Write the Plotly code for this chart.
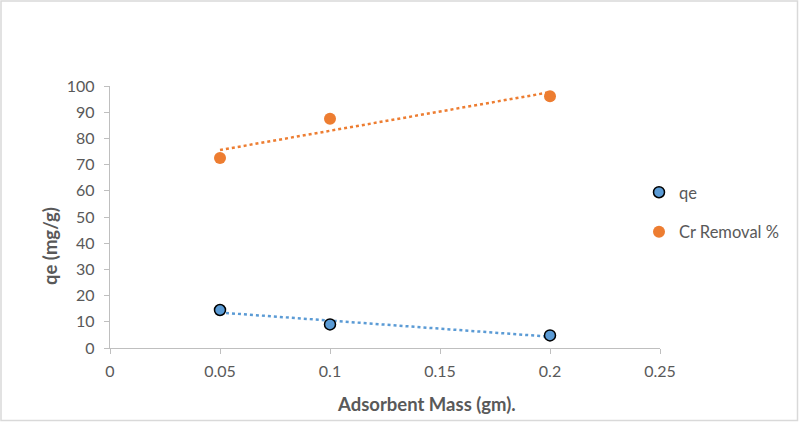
import numpy as np
import plotly.graph_objects as go

mass = [0.05, 0.1, 0.2]
qe = [14.5, 9.0, 4.8]
cr_removal = [72.5, 87.5, 96.1]

x_ticks = [0, 0.05, 0.1, 0.15, 0.2, 0.25]
x_tick_text = ["0", "0.05", "0.1", "0.15", "0.2", "0.25"]
y_ticks = list(range(0, 101, 10))

BLUE = "#5B9BD5"
ORANGE = "#ED7D31"
TXT = "#595959"
FONT = "Lato"

def trend(x, y):
    m, b = np.polyfit(x, y, 1)
    xs = [min(x), max(x)]
    return xs, [m * v + b for v in xs]

fig = go.Figure()
tx, ty = trend(mass, qe)
fig.add_trace(go.Scatter(x=tx, y=ty, mode="lines", line=dict(color=BLUE, width=2.5, dash="dot"),
                         showlegend=False, hoverinfo="skip"))
tx, ty = trend(mass, cr_removal)
fig.add_trace(go.Scatter(x=tx, y=ty, mode="lines", line=dict(color=ORANGE, width=2.5, dash="dot"),
                         showlegend=False, hoverinfo="skip"))
fig.add_trace(go.Scatter(x=mass, y=qe, mode="markers", name="qe", legendgroup="a",
                         marker=dict(color=BLUE, size=11, line=dict(color="#000000", width=1.5))))
fig.add_trace(go.Scatter(x=mass, y=cr_removal, mode="markers", name="Cr Removal %", legendgroup="b",
                         marker=dict(color=ORANGE, size=12, line=dict(width=0))))

L, R, T, B = 110, 139, 86, 74
W, H = 799, 422
pw, ph = W - L - R, H - T - B

def px(xp):
    return (xp - L) / pw

def py(yp):
    return (H - B - yp) / ph

fig.update_layout(
    width=W, height=H,
    margin=dict(l=L, r=R, t=T, b=B),
    paper_bgcolor="white", plot_bgcolor="white",
    font=dict(family=FONT, color=TXT, size=16),
    showlegend=True,
    legend=dict(x=px(639), y=py(175), xanchor="left", yanchor="top",
                font=dict(size=16.5, color=TXT, family=FONT), traceorder="grouped",
                tracegroupgap=15, bgcolor="rgba(0,0,0,0)"),
    xaxis=dict(range=[0, 0.25], tickvals=x_ticks, ticktext=x_tick_text, showgrid=False, zeroline=False,
               showline=True, linecolor="#BFBFBF", linewidth=1.3, ticks="outside", ticklen=5,
               tickcolor="#BFBFBF", tickfont=dict(size=16, color=TXT), ticklabelstandoff=4),
    yaxis=dict(range=[0, 100], tickvals=y_ticks, showgrid=False, zeroline=False,
               showline=True, linecolor="#BFBFBF", linewidth=1.3, ticks="outside", ticklen=5,
               tickcolor="#BFBFBF", tickfont=dict(size=16, color=TXT), ticklabelstandoff=6),
    annotations=[
        dict(text="<b>Adsorbent Mass (gm).</b>", xref="paper", yref="paper", x=px(426), y=py(404),
             xanchor="center", yanchor="middle", showarrow=False, font=dict(size=18.5, color=TXT, family=FONT)),
        dict(text="<b>qe (mg/g)</b>", xref="paper", yref="paper", x=px(50), y=py(246), textangle=-90,
             xanchor="center", yanchor="middle", showarrow=False, font=dict(size=18.5, color=TXT, family=FONT)),
    ],
    shapes=[dict(type="rect", xref="paper", yref="paper",
                 x0=px(1), x1=px(797.5), y0=py(420.5), y1=py(1),
                 line=dict(color="#D9D9D9", width=1.5), fillcolor="rgba(0,0,0,0)", layer="below")],
)

fig.write_html("out.html", config={"displayModeBar": False},
               post_script="document.body.style.margin='0';document.body.style.overflow='hidden';")
